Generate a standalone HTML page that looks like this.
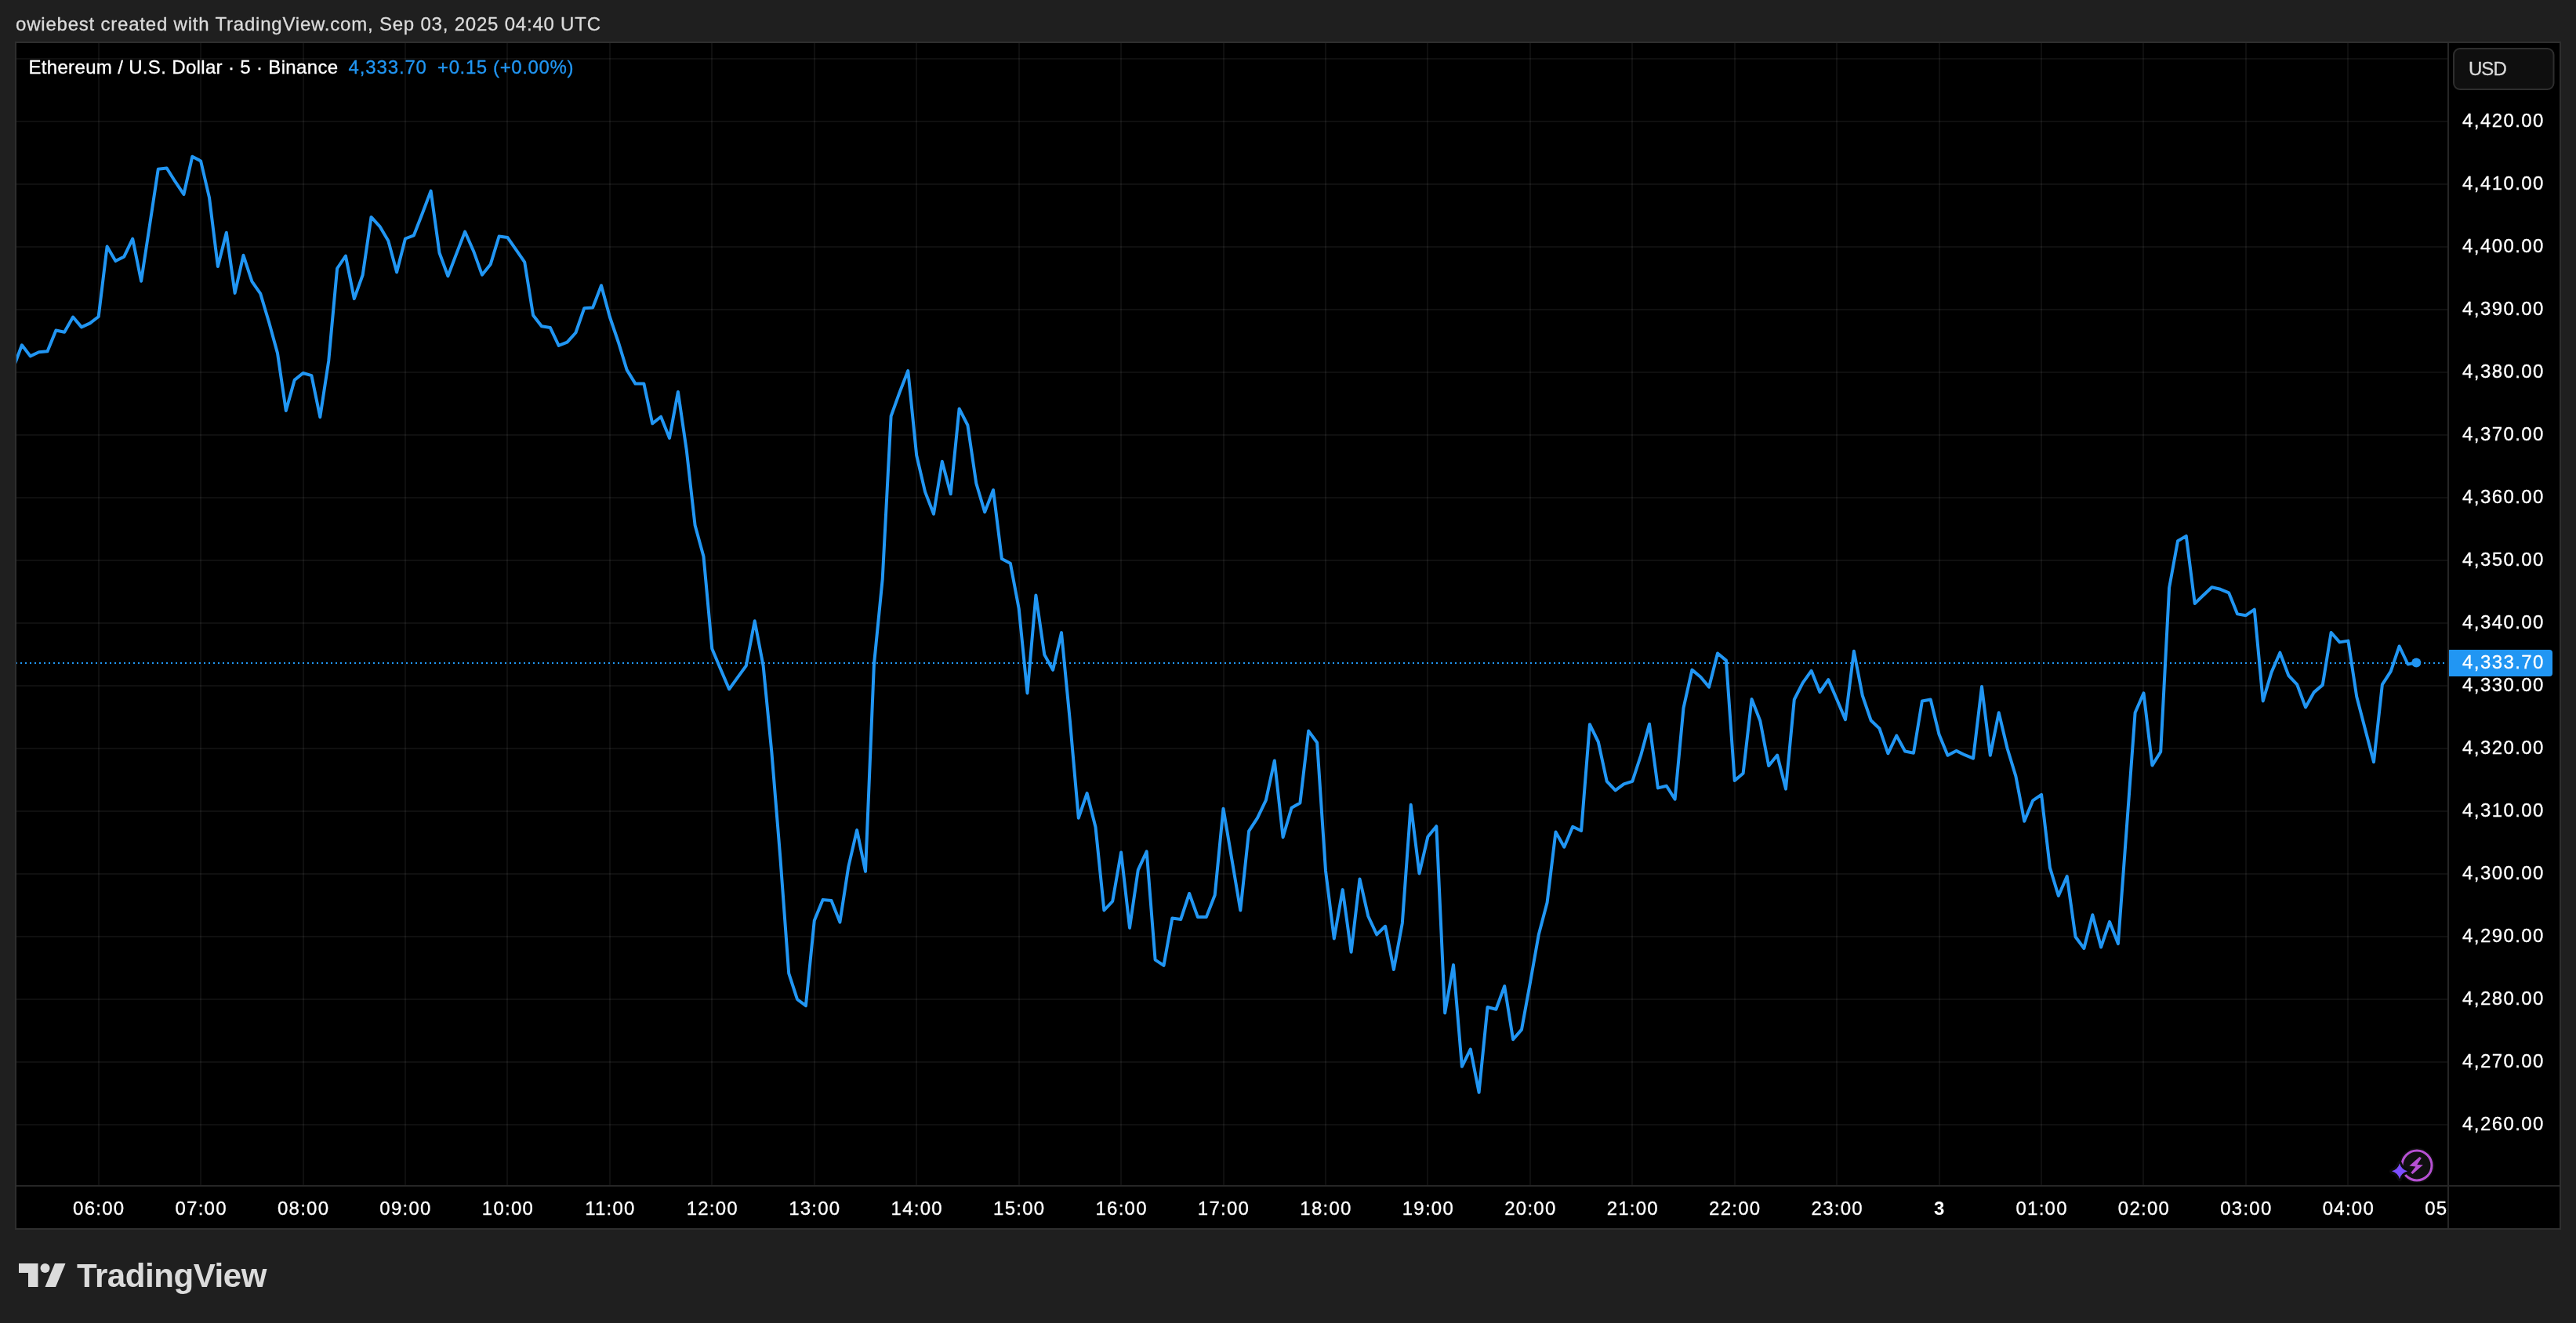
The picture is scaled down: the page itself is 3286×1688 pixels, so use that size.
<!DOCTYPE html>
<html lang="en"><head><meta charset="utf-8"><title>ETHUSD chart snapshot</title>
<style>
html,body{margin:0;padding:0;background:#1f1f1f;}
body{width:3286px;height:1688px;overflow:hidden;position:relative;font-family:"Liberation Sans", sans-serif;}
svg{position:absolute;left:0;top:0;display:block;will-change:transform}
text{font-family:"Liberation Sans", sans-serif;white-space:pre;stroke-width:0.3px;stroke-linejoin:round}
text.w{stroke:#fff}text.t{stroke:#dbdbdb}text.b{stroke:#2196f3}
</style></head><body>
<svg width="3286" height="1688" viewBox="0 0 3286 1688">
<defs><clipPath id="pane"><rect x="21" y="55" width="3101" height="1457"/></clipPath>
<clipPath id="taxis"><rect x="21" y="1514" width="3101" height="53"/></clipPath></defs>
<rect x="0" y="0" width="3286" height="1688" fill="#1f1f1f"/>
<rect x="19" y="53" width="3248" height="1516" fill="#2e2e2e"/>
<rect x="21" y="55" width="3244" height="1512" fill="#000"/>

<g fill="#f2f2f2" fill-opacity="0.062" shape-rendering="crispEdges">
<rect x="21" y="74" width="3101" height="2"/>
<rect x="21" y="154" width="3101" height="2"/>
<rect x="21" y="234" width="3101" height="2"/>
<rect x="21" y="314" width="3101" height="2"/>
<rect x="21" y="394" width="3101" height="2"/>
<rect x="21" y="474" width="3101" height="2"/>
<rect x="21" y="554" width="3101" height="2"/>
<rect x="21" y="634" width="3101" height="2"/>
<rect x="21" y="714" width="3101" height="2"/>
<rect x="21" y="794" width="3101" height="2"/>
<rect x="21" y="874" width="3101" height="2"/>
<rect x="21" y="954" width="3101" height="2"/>
<rect x="21" y="1034" width="3101" height="2"/>
<rect x="21" y="1114" width="3101" height="2"/>
<rect x="21" y="1194" width="3101" height="2"/>
<rect x="21" y="1274" width="3101" height="2"/>
<rect x="21" y="1354" width="3101" height="2"/>
<rect x="21" y="1434" width="3101" height="2"/>
<rect x="125" y="55" width="2" height="1457"/>
<rect x="255" y="55" width="2" height="1457"/>
<rect x="386" y="55" width="2" height="1457"/>
<rect x="516" y="55" width="2" height="1457"/>
<rect x="646" y="55" width="2" height="1457"/>
<rect x="777" y="55" width="2" height="1457"/>
<rect x="907" y="55" width="2" height="1457"/>
<rect x="1038" y="55" width="2" height="1457"/>
<rect x="1168" y="55" width="2" height="1457"/>
<rect x="1299" y="55" width="2" height="1457"/>
<rect x="1429" y="55" width="2" height="1457"/>
<rect x="1560" y="55" width="2" height="1457"/>
<rect x="1690" y="55" width="2" height="1457"/>
<rect x="1820" y="55" width="2" height="1457"/>
<rect x="1951" y="55" width="2" height="1457"/>
<rect x="2081" y="55" width="2" height="1457"/>
<rect x="2212" y="55" width="2" height="1457"/>
<rect x="2342" y="55" width="2" height="1457"/>
<rect x="2473" y="55" width="2" height="1457"/>
<rect x="2603" y="55" width="2" height="1457"/>
<rect x="2733" y="55" width="2" height="1457"/>
<rect x="2864" y="55" width="2" height="1457"/>
<rect x="2994" y="55" width="2" height="1457"/>
</g>
<g fill="#262626" shape-rendering="crispEdges"><rect x="21" y="1512" width="3244" height="2"/><rect x="3122" y="55" width="2" height="1512"/></g>
<line x1="14" y1="846" x2="3122" y2="846" stroke="#2196f3" stroke-width="2" stroke-dasharray="2 4" shape-rendering="crispEdges" clip-path="url(#pane)"/>
<g clip-path="url(#pane)"><path d="M17 469.4 L27.9 440.3 L38.7 454.4 L49.6 449.2 L60.5 448.3 L71.4 421.5 L82.2 423.8 L93.1 404.5 L104 417.4 L114.8 412.4 L125.7 404 L136.6 314.5 L147.4 333.1 L158.3 327.4 L169.2 304.7 L180.1 358.7 L190.9 287.7 L201.8 215.8 L212.7 214.5 L223.5 231.7 L234.4 248 L245.3 199.7 L256.1 205.4 L267 252.1 L277.9 339.9 L288.8 296.8 L299.6 373.9 L310.5 325.8 L321.4 359.1 L332.2 374.6 L343.1 411 L354 450.6 L364.8 524 L375.7 484.9 L386.6 476 L397.4 479.1 L408.3 532.2 L419.2 460.8 L430.1 342.5 L440.9 326.5 L451.8 381.1 L462.7 350.7 L473.5 276.9 L484.4 288.8 L495.3 307.3 L506.1 347.2 L517 304.5 L527.9 300.3 L538.8 272.2 L549.6 243.6 L560.5 322.5 L571.4 352.3 L582.2 323.9 L593.1 295.6 L604 320.2 L614.9 350.7 L625.7 337.3 L636.6 301.5 L647.5 303.1 L658.3 318.6 L669.2 334.3 L680.1 402.2 L690.9 416.3 L701.8 417.9 L712.7 440.9 L723.5 436.7 L734.4 424.5 L745.3 393.2 L756.2 392.4 L767 364.2 L777.9 404.5 L788.8 436.5 L799.6 471.9 L810.5 489.6 L821.4 489.6 L832.2 540.4 L843.1 531.7 L854 558.9 L864.9 499.9 L875.7 573.9 L886.6 670.2 L897.5 710 L908.3 827.7 L919.2 853.7 L930.1 879.3 L940.9 864.4 L951.8 849.4 L962.7 792.3 L973.6 849.4 L984.4 960 L995.3 1093.7 L1006.2 1241.9 L1017 1275 L1027.9 1283.2 L1038.8 1174.4 L1049.6 1148 L1060.5 1148.9 L1071.4 1176.6 L1082.3 1105.9 L1093.1 1059.1 L1104 1111.9 L1114.9 848 L1125.7 739.1 L1136.6 531 L1147.5 500.7 L1158.3 473.1 L1169.2 581 L1180.1 627.6 L1191 655.8 L1201.8 588.8 L1212.7 630.3 L1223.6 521.4 L1234.4 542.5 L1245.3 616.7 L1256.2 653.4 L1267 625.2 L1277.9 712.9 L1288.8 718.7 L1299.7 776.5 L1310.5 884.4 L1321.4 759.5 L1332.3 835.4 L1343.1 854.8 L1354 807.1 L1364.9 920 L1375.8 1043.7 L1386.6 1012.1 L1397.5 1055.2 L1408.4 1161.5 L1419.2 1150 L1430.1 1087.4 L1441 1183.9 L1451.8 1109.8 L1462.7 1086.3 L1473.6 1224.7 L1484.5 1231.9 L1495.3 1171.6 L1506.2 1173 L1517.1 1140 L1527.9 1170.1 L1538.8 1170.1 L1549.7 1142 L1560.5 1031.7 L1571.4 1096.6 L1582.3 1161.5 L1593.1 1060.4 L1604 1043.7 L1614.9 1020.8 L1625.8 970.5 L1636.6 1068.2 L1647.5 1030.8 L1658.4 1024.5 L1669.2 932.6 L1680.1 947.5 L1691 1111 L1701.8 1197.4 L1712.7 1135.1 L1723.6 1214.8 L1734.5 1121.4 L1745.3 1169 L1756.2 1192.4 L1767.1 1181.8 L1777.9 1237 L1788.8 1178 L1799.7 1026.8 L1810.5 1114.6 L1821.4 1067.5 L1832.3 1054.2 L1843.2 1292.4 L1854 1231.1 L1864.9 1360.8 L1875.8 1338.7 L1886.6 1393.8 L1897.5 1285 L1908.4 1287.7 L1919.2 1258.2 L1930.1 1326.3 L1941 1313.6 L1951.9 1254 L1962.7 1192.8 L1973.6 1151.5 L1984.5 1061.6 L1995.3 1080.7 L2006.2 1054.8 L2017.1 1060 L2027.9 924.2 L2038.8 946.5 L2049.7 996.8 L2060.6 1008.4 L2071.4 1000.4 L2082.3 996.8 L2093.2 963.5 L2104 923.8 L2114.9 1005.4 L2125.8 1002.7 L2136.6 1019.7 L2147.5 903.4 L2158.4 854.6 L2169.3 863.7 L2180.1 876.6 L2191 833.5 L2201.9 842.6 L2212.7 995.9 L2223.6 986.8 L2234.5 892 L2245.3 919.7 L2256.2 977.1 L2267.1 963.5 L2278 1006.6 L2288.8 892.5 L2299.7 871.2 L2310.6 855.8 L2321.4 883 L2332.3 867.1 L2343.2 892.5 L2354 918.1 L2364.9 830.8 L2375.8 887.5 L2386.7 919.3 L2397.5 929.5 L2408.4 961.3 L2419.3 938.6 L2430.1 958.5 L2441 960.7 L2451.9 894.5 L2462.7 892.5 L2473.6 937.3 L2484.5 963.8 L2495.4 957.9 L2506.2 963.2 L2517.1 967.6 L2528 876 L2538.8 963.8 L2549.7 909.3 L2560.6 955 L2571.4 990.3 L2582.3 1047.8 L2593.2 1021.3 L2604.1 1013.9 L2614.9 1106.8 L2625.8 1143 L2636.7 1118 L2647.5 1195.2 L2658.4 1210 L2669.3 1167.2 L2680.1 1208.5 L2691 1176.1 L2701.9 1204.1 L2712.8 1056.7 L2723.6 909.3 L2734.5 884.3 L2745.4 976.6 L2756.2 959.2 L2767.1 750 L2778 690.3 L2788.8 683.9 L2799.7 770 L2810.6 759.5 L2821.5 749.2 L2832.3 751.8 L2843.2 756.4 L2854.1 783.4 L2864.9 785.2 L2875.8 777.7 L2886.7 894.4 L2897.5 857.9 L2908.4 832.7 L2919.3 861.8 L2930.2 873.4 L2941 902.4 L2951.9 883.1 L2962.8 873.9 L2973.6 807 L2984.5 819.4 L2995.4 817.6 L3006.2 888.8 L3017.1 930.4 L3028 972.3 L3038.9 873.4 L3049.7 856.7 L3060.6 824.5 L3071.5 847.5 L3082.3 845.6" fill="none" stroke="#2196f3" stroke-width="4" stroke-linejoin="round" stroke-linecap="round"/>
<circle cx="3082.3" cy="845.6" r="6" fill="#2196f3"/></g>
<text class="t" x="20" y="39.2" font-size="24" fill="#dbdbdb" letter-spacing="0.79">owiebest created with TradingView.com, Sep 03, 2025 04:40 UTC</text>
<text class="w" x="36.4" y="93.9" font-size="24" fill="#ffffff" letter-spacing="0.34">Ethereum / U.S. Dollar · 5 · Binance</text>
<text class="b" x="444.6" y="93.9" font-size="24" fill="#2196f3" letter-spacing="0.85">4,333.70</text>
<text class="b" x="558" y="93.9" font-size="24" fill="#2196f3" letter-spacing="0.62">+0.15 (+0.00%)</text>
<rect x="3130" y="62" width="127.5" height="52" rx="8" ry="8" fill="#0f0f0f" stroke="#2e2e2e" stroke-width="2"/>
<text class="t" x="3148.9" y="96.4" font-size="24" fill="#dbdbdb" letter-spacing="-0.85">USD</text>
<text class="w" x="3141.1" y="162.4" font-size="24" fill="#ffffff" letter-spacing="1.4">4,420.00</text>
<text class="w" x="3141.1" y="242.4" font-size="24" fill="#ffffff" letter-spacing="1.4">4,410.00</text>
<text class="w" x="3141.1" y="322.4" font-size="24" fill="#ffffff" letter-spacing="1.4">4,400.00</text>
<text class="w" x="3141.1" y="402.4" font-size="24" fill="#ffffff" letter-spacing="1.4">4,390.00</text>
<text class="w" x="3141.1" y="482.4" font-size="24" fill="#ffffff" letter-spacing="1.4">4,380.00</text>
<text class="w" x="3141.1" y="562.4" font-size="24" fill="#ffffff" letter-spacing="1.4">4,370.00</text>
<text class="w" x="3141.1" y="642.4" font-size="24" fill="#ffffff" letter-spacing="1.4">4,360.00</text>
<text class="w" x="3141.1" y="722.4" font-size="24" fill="#ffffff" letter-spacing="1.4">4,350.00</text>
<text class="w" x="3141.1" y="802.4" font-size="24" fill="#ffffff" letter-spacing="1.4">4,340.00</text>
<text class="w" x="3141.1" y="882.4" font-size="24" fill="#ffffff" letter-spacing="1.4">4,330.00</text>
<text class="w" x="3141.1" y="962.4" font-size="24" fill="#ffffff" letter-spacing="1.4">4,320.00</text>
<text class="w" x="3141.1" y="1042.4" font-size="24" fill="#ffffff" letter-spacing="1.4">4,310.00</text>
<text class="w" x="3141.1" y="1122.4" font-size="24" fill="#ffffff" letter-spacing="1.4">4,300.00</text>
<text class="w" x="3141.1" y="1202.4" font-size="24" fill="#ffffff" letter-spacing="1.4">4,290.00</text>
<text class="w" x="3141.1" y="1282.4" font-size="24" fill="#ffffff" letter-spacing="1.4">4,280.00</text>
<text class="w" x="3141.1" y="1362.4" font-size="24" fill="#ffffff" letter-spacing="1.4">4,270.00</text>
<text class="w" x="3141.1" y="1442.4" font-size="24" fill="#ffffff" letter-spacing="1.4">4,260.00</text>
<path d="M3124 829 H3252 a4 4 0 0 1 4 4 V859 a4 4 0 0 1 -4 4 H3124 Z" fill="#2196f3"/>
<text class="w" x="3141.1" y="853" font-size="24" fill="#ffffff" letter-spacing="1.4">4,333.70</text>
<g clip-path="url(#taxis)">
<text class="w" x="126.2" y="1550.4" font-size="24" fill="#ffffff" letter-spacing="1.25" text-anchor="middle">06:00</text>
<text class="w" x="256.6" y="1550.4" font-size="24" fill="#ffffff" letter-spacing="1.25" text-anchor="middle">07:00</text>
<text class="w" x="387.1" y="1550.4" font-size="24" fill="#ffffff" letter-spacing="1.25" text-anchor="middle">08:00</text>
<text class="w" x="517.5" y="1550.4" font-size="24" fill="#ffffff" letter-spacing="1.25" text-anchor="middle">09:00</text>
<text class="w" x="648" y="1550.4" font-size="24" fill="#ffffff" letter-spacing="1.25" text-anchor="middle">10:00</text>
<text class="w" x="778.4" y="1550.4" font-size="24" fill="#ffffff" letter-spacing="1.25" text-anchor="middle">11:00</text>
<text class="w" x="908.8" y="1550.4" font-size="24" fill="#ffffff" letter-spacing="1.25" text-anchor="middle">12:00</text>
<text class="w" x="1039.3" y="1550.4" font-size="24" fill="#ffffff" letter-spacing="1.25" text-anchor="middle">13:00</text>
<text class="w" x="1169.7" y="1550.4" font-size="24" fill="#ffffff" letter-spacing="1.25" text-anchor="middle">14:00</text>
<text class="w" x="1300.2" y="1550.4" font-size="24" fill="#ffffff" letter-spacing="1.25" text-anchor="middle">15:00</text>
<text class="w" x="1430.6" y="1550.4" font-size="24" fill="#ffffff" letter-spacing="1.25" text-anchor="middle">16:00</text>
<text class="w" x="1561" y="1550.4" font-size="24" fill="#ffffff" letter-spacing="1.25" text-anchor="middle">17:00</text>
<text class="w" x="1691.5" y="1550.4" font-size="24" fill="#ffffff" letter-spacing="1.25" text-anchor="middle">18:00</text>
<text class="w" x="1821.9" y="1550.4" font-size="24" fill="#ffffff" letter-spacing="1.25" text-anchor="middle">19:00</text>
<text class="w" x="1952.4" y="1550.4" font-size="24" fill="#ffffff" letter-spacing="1.25" text-anchor="middle">20:00</text>
<text class="w" x="2082.8" y="1550.4" font-size="24" fill="#ffffff" letter-spacing="1.25" text-anchor="middle">21:00</text>
<text class="w" x="2213.2" y="1550.4" font-size="24" fill="#ffffff" letter-spacing="1.25" text-anchor="middle">22:00</text>
<text class="w" x="2343.7" y="1550.4" font-size="24" fill="#ffffff" letter-spacing="1.25" text-anchor="middle">23:00</text>
<text x="2473.6" y="1550.4" font-size="24" font-weight="bold" fill="#ffffff" text-anchor="middle">3</text>
<text class="w" x="2604.6" y="1550.4" font-size="24" fill="#ffffff" letter-spacing="1.25" text-anchor="middle">01:00</text>
<text class="w" x="2735" y="1550.4" font-size="24" fill="#ffffff" letter-spacing="1.25" text-anchor="middle">02:00</text>
<text class="w" x="2865.4" y="1550.4" font-size="24" fill="#ffffff" letter-spacing="1.25" text-anchor="middle">03:00</text>
<text class="w" x="2995.9" y="1550.4" font-size="24" fill="#ffffff" letter-spacing="1.25" text-anchor="middle">04:00</text>
<text class="w" x="3126.3" y="1550.4" font-size="24" fill="#ffffff" letter-spacing="1.25" text-anchor="middle">05:00</text>
</g>
<g>
<circle cx="3083" cy="1487" r="22.5" fill="#0b0b0b"/>
<circle cx="3083" cy="1487" r="19" fill="#0f0f0f" stroke="#b650d2" stroke-width="3"/>
<path d="M3086.4 1476.1 L3088.9 1477.6 L3083.3 1485.9 L3090.9 1486.3 L3077.6 1498 L3075.4 1496.3 L3081.4 1488.5 L3073.4 1487.5 Z" fill="#b650d2"/>
<path d="M3061 1484.3 Q3063.2 1492.1 3071 1494.3 Q3063.2 1496.5 3061 1504.3 Q3058.8 1496.5 3051 1494.3 Q3058.8 1492.1 3061 1484.3 Z" fill="#0b0b0b" stroke="#0b0b0b" stroke-width="6" stroke-linejoin="round"/>
<path d="M3061 1484.3 Q3063.2 1492.1 3071 1494.3 Q3063.2 1496.5 3061 1504.3 Q3058.8 1496.5 3051 1494.3 Q3058.8 1492.1 3061 1484.3 Z" fill="#7c4dff"/>
</g>
<g fill="#dbdbdb">
<path d="M24 1612 H48.5 V1642 H36 V1624 H24 Z"/>
<circle cx="57.5" cy="1618" r="6"/>
<path d="M70 1612 H83.5 L71 1642 H57.5 Z"/>
<text x="98" y="1642" font-size="42" font-weight="bold" letter-spacing="-0.43">TradingView</text>
</g>
</svg></body></html>
